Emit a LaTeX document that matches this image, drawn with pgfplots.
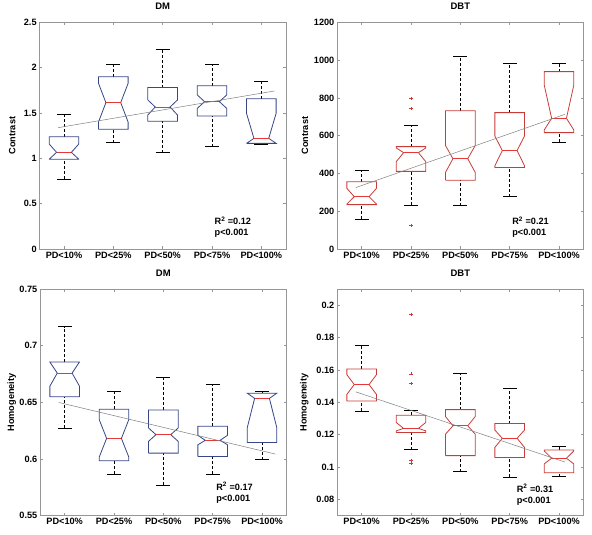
\documentclass[border=0pt]{standalone}
\usepackage{pgfplots}
\pgfplotsset{compat=1.18}
\usepackage{fontspec}
\setmainfont{Liberation Sans}
\definecolor{dmblue}{RGB}{55,70,135}
\definecolor{dbtred}{RGB}{200,60,55}
\definecolor{medred}{RGB}{230,55,55}
\definecolor{axgray}{RGB}{150,150,150}
% notched box: #1 x, #2 lower whisker, #3 q1, #4 notch low, #5 median, #6 notch high, #7 q3, #8 upper whisker, #9 colour
\newcommand{\nbox}[9]{%
  \pgfmathsetmacro{\xa}{#1-0.3}\pgfmathsetmacro{\xb}{#1+0.3}%
  \pgfmathsetmacro{\xc}{#1-0.15}\pgfmathsetmacro{\xd}{#1+0.15}%
  \pgfmathsetmacro{\xe}{#1-0.14}\pgfmathsetmacro{\xf}{#1+0.14}%
  \edef\doit{%
    \noexpand\addplot[black,dash pattern=on 3bp off 2bp,line width=0.6bp] coordinates {(#1,#7) (#1,#8)};
    \noexpand\addplot[black,dash pattern=on 3bp off 2bp,line width=0.6bp] coordinates {(#1,#2) (#1,#3)};
    \noexpand\addplot[black,line width=0.7bp] coordinates {(\xe,#8) (\xf,#8)};
    \noexpand\addplot[black,line width=0.7bp] coordinates {(\xe,#2) (\xf,#2)};
    \noexpand\addplot[#9,line width=0.8bp] coordinates {(\xa,#3) (\xa,#4) (\xc,#5) (\xa,#6) (\xa,#7) (\xb,#7) (\xb,#6) (\xd,#5) (\xb,#4) (\xb,#3) (\xa,#3)};
    \noexpand\addplot[medred,line width=0.8bp] coordinates {(\xc,#5) (\xd,#5)};
  }\doit}
\pgfplotsset{
  mystyle/.style={
    scale only axis, width=246.7bp, height=226.7bp,
    xmin=0.5, xmax=5.5, xtick={1,2,3,4,5},
    xticklabels={PD<10\%,PD<25\%,PD<50\%,PD<75\%,PD<100\%},
    tick align=inside, xtick pos=both, ytick pos=both,
    major tick length=3bp,
    axis line style={draw=axgray, line width=0.7bp},
    major tick style={draw=axgray, line width=0.6bp},
    every tick label/.append style={font=\bfseries\fontsize{9.2}{11}\selectfont, black},
    xticklabel style={inner sep=2.5bp},
    yticklabel style={inner sep=2.5bp},
    /pgf/number format/assume math mode=true,
    /pgf/number format/fixed,
    /pgf/number format/1000 sep={},
    scaled y ticks=false,
    title style={font=\bfseries\fontsize{9.5}{11}\selectfont, at={(axis description cs:0.5,1)}, anchor=south, yshift=3bp},
    ylabel style={font=\bfseries\fontsize{9.2}{11}\selectfont, anchor=center},
  },
}
\tikzset{ann/.style={anchor=north west, align=left, font=\bfseries\fontsize{9.2}{10.8}\selectfont, inner sep=0pt}}
\begin{document}
\begin{tikzpicture}
\useasboundingbox (0,0) rectangle (592bp,-535bp);
% ---------------- top left ----------------
\begin{axis}[mystyle, at={(39.3bp,-249bp)}, anchor=south west,
  ymin=0, ymax=2.5, ytick={0,0.5,1,1.5,2,2.5},
  title={DM}, ylabel={Contrast},
  ylabel style={at={(axis description cs:-0.11,0.5)}}]
\nbox{1}{0.772}{0.989}{0.99}{1.066}{1.158}{1.239}{1.485}{dmblue}
\nbox{2}{1.173}{1.32}{1.40}{1.614}{1.827}{1.90}{2.04}{dmblue}
\nbox{3}{1.063}{1.408}{1.478}{1.566}{1.643}{1.78}{2.20}{dmblue}
\nbox{4}{1.129}{1.467}{1.55}{1.625}{1.70}{1.80}{2.037}{dmblue}
\nbox{5}{1.158}{1.165}{1.165}{1.22}{1.496}{1.658}{1.85}{dmblue}
\addplot[gray, line width=0.5bp] coordinates {(0.88,1.338) (5.27,1.743)};
\node[ann] at (axis cs:4.05,0.36) {R\textsuperscript{2} =0.12\\p<0.001};
\end{axis}
% ---------------- top right ----------------
\begin{axis}[mystyle, at={(337bp,-249bp)}, anchor=south west,
  ymin=0, ymax=1200, ytick={0,200,400,600,800,1000,1200},
  title={DBT}, ylabel={Contrast},
  ylabel style={at={(axis description cs:-0.13,0.5)}}]
\nbox{1}{159}{235}{238}{277}{321}{356}{415}{dbtred}
\nbox{2}{233}{411}{462}{510}{535}{542}{655}{dbtred}
\nbox{3}{229}{364}{406}{478}{547}{732}{1018}{dbtred}
\nbox{4}{277}{431}{441}{521}{598}{722}{981}{dbtred}
\nbox{5}{566}{616}{630}{692}{868}{939}{981}{dbtred}
\addplot[only marks, mark=+, mark size=1.6bp, dbtred] coordinates {(2,796) (2,743) (2,124)};
\addplot[gray, line width=0.5bp] coordinates {(0.88,325) (5.12,713)};
\node[ann] at (axis cs:4.05,173) {R\textsuperscript{2} =0.21\\p<0.001};
\end{axis}
% ---------------- bottom left ----------------
\begin{axis}[mystyle, at={(40bp,-515.7bp)}, anchor=south west,
  ymin=0.55, ymax=0.75, ytick={0.55,0.6,0.65,0.7,0.75},
  yticklabels={0.55,0.6,0.65,0.7,0.75},
  title={DM}, ylabel={Homogeneity},
  ylabel style={at={(axis description cs:-0.114,0.5)}}]
\nbox{1}{0.6274}{0.6549}{0.6643}{0.6758}{0.6856}{0.6856}{0.7169}{dmblue}
\nbox{2}{0.5869}{0.5984}{0.6017}{0.6182}{0.6348}{0.644}{0.6596}{dmblue}
\nbox{3}{0.5772}{0.6052}{0.6156}{0.6215}{0.6274}{0.6433}{0.6723}{dmblue}
\nbox{4}{0.5866}{0.6023}{0.6126}{0.6165}{0.6209}{0.6289}{0.6658}{dmblue}
\nbox{5}{0.5993}{0.6145}{0.6275}{0.6535}{0.6581}{0.6581}{0.6599}{dmblue}
\addplot[gray, line width=0.5bp] coordinates {(0.88,0.6499) (5.27,0.6044)};
\node[ann] at (axis cs:4.07,0.5795) {R\textsuperscript{2} =0.17\\p<0.001};
\end{axis}
% ---------------- bottom right ----------------
\begin{axis}[mystyle, at={(337bp,-515.7bp)}, anchor=south west,
  ymin=0.07, ymax=0.21, ytick={0.08,0.1,0.12,0.14,0.16,0.18,0.2},
  yticklabels={0.08,0.1,0.12,0.14,0.16,0.18,0.2},
  title={DBT}, ylabel={Homogeneity},
  ylabel style={at={(axis description cs:-0.133,0.5)}}]
\nbox{1}{0.1347}{0.1408}{0.1449}{0.151}{0.1571}{0.1606}{0.1751}{dbtred}
\nbox{2}{0.1108}{0.1214}{0.1224}{0.1239}{0.1276}{0.132}{0.1353}{dbtred}
\nbox{3}{0.0971}{0.1071}{0.1204}{0.1255}{0.1312}{0.1355}{0.1578}{dbtred}
\nbox{4}{0.0937}{0.1059}{0.1122}{0.1178}{0.1229}{0.1269}{0.1486}{dbtred}
\nbox{5}{0.0941}{0.0965}{0.102}{0.1055}{0.1100}{0.1106}{0.1129}{dbtred}
\addplot[only marks, mark=+, mark size=1.6bp, dbtred] coordinates {(2,0.1945) (2,0.1576) (2,0.1516) (2,0.1041) (2,0.1022)};
\addplot[gray, line width=0.5bp] coordinates {(0.88,0.1465) (5.12,0.1031)};
\node[ann] at (axis cs:4.14,0.0895) {R\textsuperscript{2} =0.31\\p<0.001};
\end{axis}
\end{tikzpicture}
\end{document}
